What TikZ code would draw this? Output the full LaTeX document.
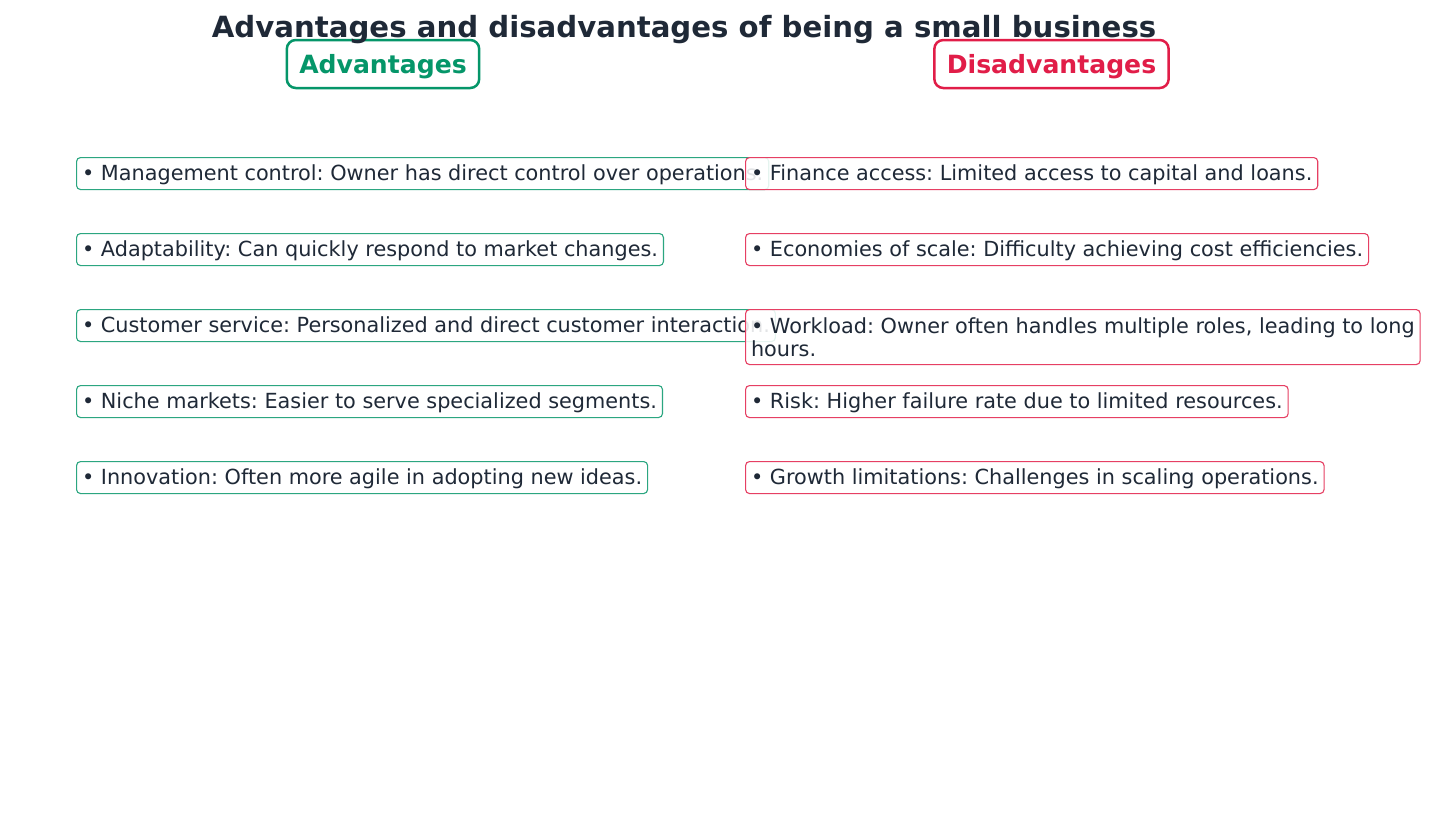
\documentclass[tikz,border=0pt]{standalone}
\usepackage{fontspec}
\setmainfont{DejaVu Sans}
\frenchspacing
\definecolor{adv}{HTML}{059669}
\definecolor{dis}{HTML}{E11D48}
\definecolor{ink}{HTML}{1F2937}
\begin{document}
\begin{tikzpicture}[x=1pt,y=-1pt,
  head/.style={draw, line width=2.5pt, rounded corners=9pt, fill=white, inner xsep=12.5pt, inner ysep=0pt, text height=21pt, text depth=3pt, minimum height=48pt, font=\fontsize{25.1}{29}\selectfont\bfseries},
  item/.style={draw, line width=1.1pt, rounded corners=4pt, anchor=north west, inner xsep=5.5pt, inner ysep=0pt, minimum height=32pt, text=ink, font=\fontsize{20.8}{23.5}\selectfont, align=left},
  one/.style={text height=17pt, text depth=2.8pt},
  advitem/.style={item, one, draw=adv!85},
  disitem/.style={item, draw=dis!85, fill=white, fill opacity=0.88, text opacity=1}
]
\useasboundingbox[fill=white] (0,0) rectangle (1431,825);
\node[head, draw=adv, text=adv] (hadv) at (383,64) {Advantages};
\node[head, draw=dis, text=dis] (hdis) at (1051.5,64) {Disadvantages};
\node[text=ink, font=\fontsize{29.2}{34}\selectfont\bfseries] (title) at (684,29.5) {Advantages and disadvantages of being a small business};

\node[advitem] (a1) at (76,157) {• Management control: Owner has direct control over operations.};
\node[advitem] (a2) at (76,233) {• Adaptability: Can quickly respond to market changes.};
\node[advitem] (a3) at (76,309) {• Customer service: Personalized and direct customer interaction.};
\node[advitem] (a4) at (76,385) {• Niche markets: Easier to serve specialized segments.};
\node[advitem] (a5) at (76,461) {• Innovation: Often more agile in adopting new ideas.};

\node[disitem, one] (d1) at (745,157) {• Finance access: Limited access to capital and loans.};
\node[disitem, one] (d2) at (745,233) {• Economies of scale: Difficulty achieving cost efficiencies.};
\node[disitem, minimum height=55pt] (d3) at (745,309) {• Workload: Owner often handles multiple roles, leading to long\\hours.};
\node[disitem, one] (d4) at (745,385) {• Risk: Higher failure rate due to limited resources.};
\node[disitem, one] (d5) at (745,461) {• Growth limitations: Challenges in scaling operations.};
\end{tikzpicture}
\end{document}
